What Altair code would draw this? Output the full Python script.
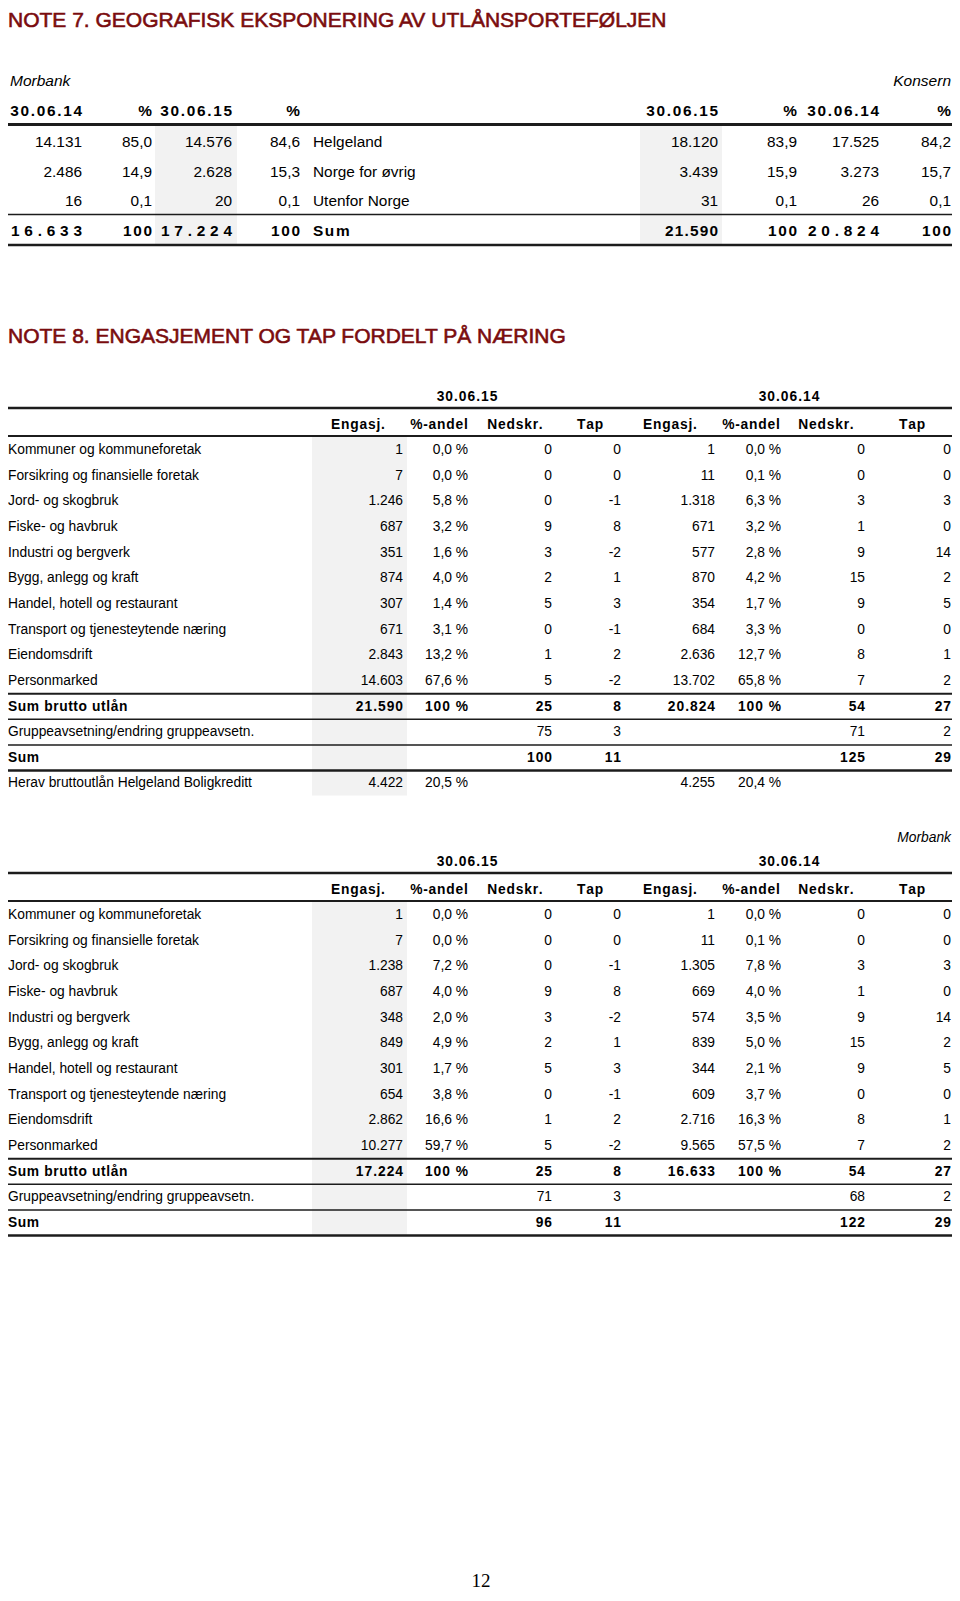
import altair as alt
import pandas as pd

# ====================== DATA ======================
# ---- NOTE 7 ----
n7_title = "NOTE 7. GEOGRAFISK EKSPONERING AV UTLÅNSPORTEFØLJEN"
n7_left_caption = "Morbank"
n7_right_caption = "Konsern"
n7_left_headers = ["30.06.14", "%", "30.06.15", "%"]
n7_right_headers = ["30.06.15", "%", "30.06.14", "%"]
n7_regions = ["Helgeland", "Norge for øvrig", "Utenfor Norge"]
n7_mor_1406 = ["14.131", "2.486", "16"]
n7_mor_1406_pct = ["85,0", "14,9", "0,1"]
n7_mor_1506 = ["14.576", "2.628", "20"]
n7_mor_1506_pct = ["84,6", "15,3", "0,1"]
n7_kon_1506 = ["18.120", "3.439", "31"]
n7_kon_1506_pct = ["83,9", "15,9", "0,1"]
n7_kon_1406 = ["17.525", "3.273", "26"]
n7_kon_1406_pct = ["84,2", "15,7", "0,1"]
n7_sum_label = "Sum"
n7_sum_left = ["16.633", "100", "17.224", "100"]
n7_sum_right = ["21.590", "100", "20.824", "100"]

# ---- NOTE 8 ----
n8_title = "NOTE 8. ENGASJEMENT OG TAP FORDELT PÅ NÆRING"
n8_periods = ["30.06.15", "30.06.14"]
n8_col_headers = ["Engasj.", "%-andel", "Nedskr.", "Tap", "Engasj.", "%-andel", "Nedskr.", "Tap"]
n8_industries = [
    "Kommuner og kommuneforetak", "Forsikring og finansielle foretak", "Jord- og skogbruk",
    "Fiske- og havbruk", "Industri og bergverk", "Bygg, anlegg og kraft",
    "Handel, hotell og restaurant", "Transport og tjenesteytende næring", "Eiendomsdrift",
    "Personmarked",
]
# Konsern
k_eng15 = ["1", "7", "1.246", "687", "351", "874", "307", "671", "2.843", "14.603"]
k_pct15 = ["0,0 %", "0,0 %", "5,8 %", "3,2 %", "1,6 %", "4,0 %", "1,4 %", "3,1 %", "13,2 %", "67,6 %"]
k_ned15 = ["0", "0", "0", "9", "3", "2", "5", "0", "1", "5"]
k_tap15 = ["0", "0", "-1", "8", "-2", "1", "3", "-1", "2", "-2"]
k_eng14 = ["1", "11", "1.318", "671", "577", "870", "354", "684", "2.636", "13.702"]
k_pct14 = ["0,0 %", "0,1 %", "6,3 %", "3,2 %", "2,8 %", "4,2 %", "1,7 %", "3,3 %", "12,7 %", "65,8 %"]
k_ned14 = ["0", "0", "3", "1", "9", "15", "9", "0", "8", "7"]
k_tap14 = ["0", "0", "3", "0", "14", "2", "5", "0", "1", "2"]
k_sum_brutto = ["21.590", "100 %", "25", "8", "20.824", "100 %", "54", "27"]
k_gruppe = ["", "", "75", "3", "", "", "71", "2"]
k_sum = ["", "", "100", "11", "", "", "125", "29"]
k_herav = ["4.422", "20,5 %", "", "", "4.255", "20,4 %", "", ""]
# Morbank
m_caption = "Morbank"
m_eng15 = ["1", "7", "1.238", "687", "348", "849", "301", "654", "2.862", "10.277"]
m_pct15 = ["0,0 %", "0,0 %", "7,2 %", "4,0 %", "2,0 %", "4,9 %", "1,7 %", "3,8 %", "16,6 %", "59,7 %"]
m_ned15 = ["0", "0", "0", "9", "3", "2", "5", "0", "1", "5"]
m_tap15 = ["0", "0", "-1", "8", "-2", "1", "3", "-1", "2", "-2"]
m_eng14 = ["1", "11", "1.305", "669", "574", "839", "344", "609", "2.716", "9.565"]
m_pct14 = ["0,0 %", "0,1 %", "7,8 %", "4,0 %", "3,5 %", "5,0 %", "2,1 %", "3,7 %", "16,3 %", "57,5 %"]
m_ned14 = ["0", "0", "3", "1", "9", "15", "9", "0", "8", "7"]
m_tap14 = ["0", "0", "3", "0", "14", "2", "5", "0", "1", "2"]
m_sum_brutto = ["17.224", "100 %", "25", "8", "16.633", "100 %", "54", "27"]
m_gruppe = ["", "", "71", "3", "", "", "68", "2"]
m_sum = ["", "", "96", "11", "", "", "122", "29"]

page_number = "12"

# ====================== LAYOUT ======================
W, H = 944, 1585
X0, Y0 = 8, 8
SANS = "Liberation Sans"
SERIF = "Liberation Serif"
RED = "#7a0c0e"
SHADE = "#f2f2f2"
LINE = "#1c1c1c"
LX0, LX1 = 8, 952

# Arial/Liberation Sans Bold advance widths (em)
BOLD_W = {" ": .278, "%": .889, ",": .278, "-": .333, ".": .278,
          "E": .667, "N": .722, "S": .667, "T": .611,
          "a": .556, "b": .611, "d": .611, "e": .556, "g": .611, "j": .278, "k": .556,
          "l": .278, "m": .889, "n": .611, "o": .611, "p": .611, "r": .389, "s": .556,
          "t": .333, "u": .611, "å": .556}
for d in "0123456789":
    BOLD_W[d] = .556

cells = []
rules = []
rects = []


def text_cell(x, y, s, size, font=SANS, weight="normal", fstyle="normal", align="left",
              color="#000000", heavy=0.0):
    if s == "":
        return
    cells.append(dict(x=x, y=y, t=s, size=size, font=font, weight=weight,
                      fstyle=fstyle, align=align, color=color, heavy=heavy))


def spaced_cell(anchor, y, s, size, gap, align):
    if s == "":
        return
    widths = [BOLD_W.get(c, .6) * size for c in s]
    total = sum(widths) + gap * (len(s) - 1)
    if align == "right":
        x = anchor - total
    elif align == "center":
        x = anchor - total / 2
    else:
        x = anchor
    for c, w in zip(s, widths):
        if c != " ":
            text_cell(x, y, c, size, weight="bold")
        x += w + gap


# ---------- NOTE 7 ----------
n7 = dict(title_y=20.5, cap_y=81, head_y=111, rows_y=[142, 171.5, 201], sum_y=230.5,
          left_ends=[82, 152, 232, 300], label_x=313, right_ends=[718, 797, 879, 951],
          size=15.4, cap_size=15.5, head_gap=1.7,
          sum_gaps_left=[4.8, 1.6, 4.8, 1.6], sum_gaps_right=[1.2, 1.6, 4.8, 1.6],
          lines=[(124.5, 3), (214.5, 1.5), (245, 2.5)],
          shades=[(155, 237), (640, 722)], shade_y=(126, 244))

text_cell(8, n7["title_y"], n7_title, 21, color=RED, heavy=0.6)
text_cell(10, n7["cap_y"], n7_left_caption, n7["cap_size"], fstyle="italic")
text_cell(951, n7["cap_y"], n7_right_caption, n7["cap_size"], fstyle="italic", align="right")
for h, xe in zip(n7_left_headers, n7["left_ends"]):
    spaced_cell(xe, n7["head_y"], h, n7["size"], n7["head_gap"], "right")
for h, xe in zip(n7_right_headers, n7["right_ends"]):
    spaced_cell(xe, n7["head_y"], h, n7["size"], n7["head_gap"], "right")
left_cols = [n7_mor_1406, n7_mor_1406_pct, n7_mor_1506, n7_mor_1506_pct]
right_cols = [n7_kon_1506, n7_kon_1506_pct, n7_kon_1406, n7_kon_1406_pct]
for i, y in enumerate(n7["rows_y"]):
    for col, xe in zip(left_cols, n7["left_ends"]):
        text_cell(xe, y, col[i], n7["size"], align="right")
    for col, xe in zip(right_cols, n7["right_ends"]):
        text_cell(xe, y, col[i], n7["size"], align="right")
    text_cell(n7["label_x"], y, n7_regions[i], n7["size"])
for v, xe, g in zip(n7_sum_left, n7["left_ends"], n7["sum_gaps_left"]):
    spaced_cell(xe, n7["sum_y"], v, n7["size"], g, "right")
for v, xe, g in zip(n7_sum_right, n7["right_ends"], n7["sum_gaps_right"]):
    spaced_cell(xe, n7["sum_y"], v, n7["size"], g, "right")
spaced_cell(n7["label_x"], n7["sum_y"], n7_sum_label, n7["size"], 1.6, "left")
for y, w in n7["lines"]:
    rules.append(dict(x=LX0, x2=LX1, y=y, w=w))
for xa, xb in n7["shades"]:
    rects.append(dict(x=xa, x2=xb, y=n7["shade_y"][0], y2=n7["shade_y"][1]))

# ---------- NOTE 8 ----------
text_cell(8, 337, n8_title, 21, color=RED, heavy=0.6)

S8 = 13.8
ends8 = [403, 468, 552, 621, 715, 781, 865, 951]
head_centers8 = [358, 439, 515, 590, 670, 751, 826, 912]
period_centers8 = [467, 789]
label_x8 = 8
row_step = 25.65


def note8_table(top, body, caption=None):
    period_y = top
    if caption:
        text_cell(951, period_y - 24, caption, S8, fstyle="italic", align="right")
    for p, xc in zip(n8_periods, period_centers8):
        spaced_cell(xc, period_y, p, S8, 1.0, "center")
    rules.append(dict(x=LX0, x2=LX1, y=period_y + 11, w=2.5))
    head_y = period_y + 28
    for h, xc in zip(n8_col_headers, head_centers8):
        spaced_cell(xc, head_y, h, S8, 0.8, "center")
    rules.append(dict(x=LX0, x2=LX1, y=head_y + 11, w=2))
    y = head_y + 25
    first_y = y
    last_y = y
    for label, vals, bold, line_after in body:
        if bold:
            spaced_cell(label_x8, y, label, S8, 0.6, "left")
            for v, xe in zip(vals, ends8):
                spaced_cell(xe, y, v, S8, 1.0, "right")
        else:
            text_cell(label_x8, y, label, S8)
            for v, xe in zip(vals, ends8):
                text_cell(xe, y, v, S8, align="right")
        if line_after:
            rules.append(dict(x=LX0, x2=LX1, y=y + 12.8, w=line_after))
        last_y = y
        y += row_step
    rects.append(dict(x=312, x2=407, y=first_y - 13, y2=last_y + 12))


def body_rows(eng15, pct15, ned15, tap15, eng14, pct14, ned14, tap14, sb, gr, sm, herav=None):
    out = []
    n = len(n8_industries)
    for i in range(n):
        vals = [eng15[i], pct15[i], ned15[i], tap15[i], eng14[i], pct14[i], ned14[i], tap14[i]]
        out.append((n8_industries[i], vals, False, 2 if i == n - 1 else 0))
    out.append(("Sum brutto utlån", sb, True, 1.5))
    out.append(("Gruppeavsetning/endring gruppeavsetn.", gr, False, 1.5))
    out.append(("Sum", sm, True, 2.5))
    if herav:
        out.append(("Herav bruttoutlån Helgeland Boligkreditt", herav, False, 0))
    return out


note8_table(397, body_rows(k_eng15, k_pct15, k_ned15, k_tap15, k_eng14, k_pct14, k_ned14, k_tap14,
                           k_sum_brutto, k_gruppe, k_sum, k_herav))
note8_table(862, body_rows(m_eng15, m_pct15, m_ned15, m_tap15, m_eng14, m_pct14, m_ned14, m_tap14,
                           m_sum_brutto, m_gruppe, m_sum), caption=m_caption)

text_cell(481, 1581, page_number, 19, font=SERIF, align="center")

# ====================== CHART ======================
xs = alt.Scale(domain=[X0, X0 + W], range=[0, W])
ys = alt.Scale(domain=[Y0, Y0 + H], range=[0, H])

df_rect = pd.DataFrame(rects)
df_rule = pd.DataFrame(rules)
df_text = pd.DataFrame(cells)

layers = [
    alt.Chart(df_rect).mark_rect(color=SHADE).encode(
        x=alt.X("x:Q", scale=xs, axis=None), x2="x2:Q",
        y=alt.Y("y:Q", scale=ys, axis=None), y2="y2:Q"),
    alt.Chart(df_rule).mark_rule(color=LINE).encode(
        x=alt.X("x:Q", scale=xs, axis=None), x2="x2:Q",
        y=alt.Y("y:Q", scale=ys, axis=None),
        size=alt.Size("w:Q", scale=None, legend=None)),
]
for (font, weight, fstyle, align, color, heavy), g in df_text.groupby(
        ["font", "weight", "fstyle", "align", "color", "heavy"]):
    extra = {}
    if heavy > 0:
        extra = dict(stroke=color, strokeWidth=float(heavy))
    layers.append(
        alt.Chart(g.reset_index(drop=True)).mark_text(
            font=font, fontWeight=weight, fontStyle=fstyle, align=align, color=color,
            baseline="middle", **extra
        ).encode(
            x=alt.X("x:Q", scale=xs, axis=None),
            y=alt.Y("y:Q", scale=ys, axis=None),
            text="t:N",
            size=alt.Size("size:Q", scale=None, legend=None),
        )
    )

chart = alt.layer(*layers).properties(
    width=W, height=H, padding=0, autosize=alt.AutoSizeParams(type="none"), background="white"
).configure_view(stroke=None)

chart.save("out.html", embed_options={"renderer": "svg", "actions": False})
